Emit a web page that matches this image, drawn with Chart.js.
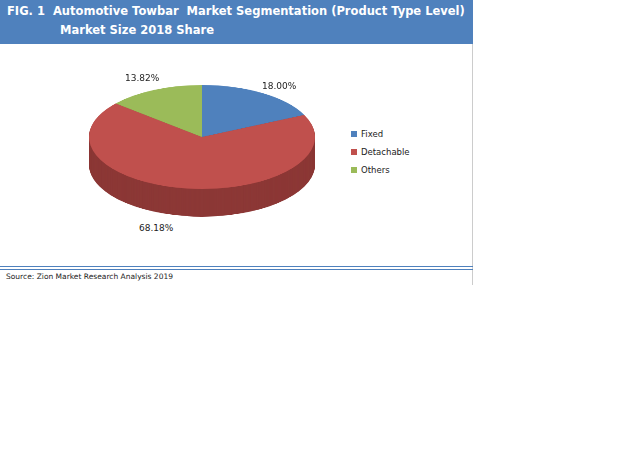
<!DOCTYPE html><html><head><script src="https://cdn.jsdelivr.net/npm/chart.js"></script>
<style>
body{margin:0;width:631px;height:452px;background:#fff;font-family:"DejaVu Sans",Verdana,sans-serif;position:relative}
#hdr{position:absolute;left:0;top:0;width:473px;height:44px;background:#4f81bd;color:#fff;font-weight:bold;font-size:11.5px;line-height:19px}
#frame{position:absolute;left:0;top:44px;width:472px;height:241px;border-right:1px solid #ccc}
.t{position:absolute;font-size:9px;color:#222}
#wrap{position:absolute;left:89px;top:85px;width:226px;height:286px;transform:scaleY(0.46);transform-origin:0 0}
.lg{position:absolute;left:351px;font-size:8.5px;color:#222}
.lg i{display:inline-block;width:6px;height:6px;margin-right:4px;vertical-align:0}
</style></head><body>
<div id="hdr"><div style="position:absolute;left:7px;top:2px">FIG. 1&nbsp; Automotive Towbar&nbsp; Market Segmentation (Product Type Level)</div><div style="position:absolute;left:60px;top:21px">Market Size 2018 Share</div></div>
<div id="frame"></div>
<div style="position:absolute;left:0;top:266px;width:473px;height:1px;background:#4f81bd"></div>
<div style="position:absolute;left:0;top:269px;width:473px;height:1px;background:#4f81bd"></div>
<div class="t" style="left:6px;top:272px;font-size:7.5px">Source: Zion Market Research Analysis 2019</div>
<div id="wrap"><canvas id="c" width="226" height="286"></canvas></div>
<div id="labels"></div>
<div id="legend"></div>
<script>
const categories=["Fixed","Detachable","Others"];
const shares=[18.00,68.18,13.82];
const colors=["#4f81bd","#c0504d","#9bbb59"];
const sideColors=["#385d8a","#8c3836","#71893f"];
const labelPos=[[262,81],[139,223],[125,73]];
const depth={id:'depth',beforeDatasetsDraw(ch){const c=ch.ctx;const m=ch.getDatasetMeta(0);
 for(let d=60;d>0;d-=1){m.data.forEach((a,i)=>{c.save();c.translate(0,d);c.fillStyle=sideColors[i];c.beginPath();c.moveTo(a.x,a.y);c.arc(a.x,a.y,a.outerRadius,a.startAngle,a.endAngle);c.closePath();c.fill();c.restore();});}}};
new Chart(document.getElementById('c'),{type:'pie',data:{labels:categories,datasets:[{data:shares,backgroundColor:colors,borderWidth:0}]},
options:{responsive:false,animation:false,layout:{padding:{bottom:60}},plugins:{legend:{display:false},tooltip:{enabled:false}}},plugins:[depth]});
let h='';shares.forEach((v,i)=>{h+=`<div class="t" style="left:${labelPos[i][0]}px;top:${labelPos[i][1]}px">${v.toFixed(2)}%</div>`});
document.getElementById('labels').innerHTML=h;
let g='';categories.forEach((n,i)=>{g+=`<div class="lg" style="top:${129+i*18}px"><i style="background:${colors[i]}"></i>${n}</div>`});
document.getElementById('legend').innerHTML=g;
</script></body></html>
